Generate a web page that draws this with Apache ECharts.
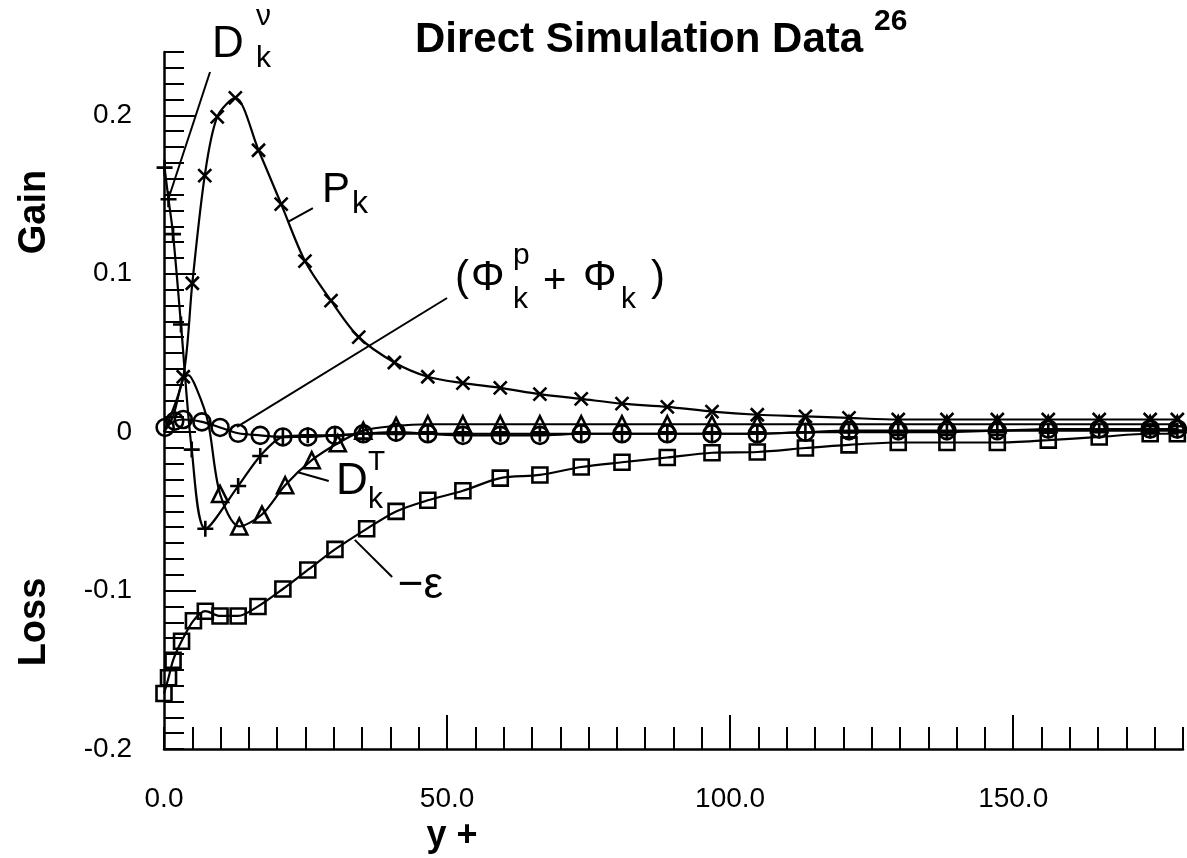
<!DOCTYPE html>
<html><head><meta charset="utf-8">
<script src="https://cdn.jsdelivr.net/npm/echarts@6/dist/echarts.min.js"></script>
<style>html,body{margin:0;padding:0;background:#fff}#c{width:1187px;height:858px}</style>
</head><body><div id="c"></div>
<script>
// ---------- data ----------
const pkX = [0, 3.4, 5.0, 7.2, 9.4, 12.6, 16.7, 20.7, 24.9, 29.5, 34.4, 40.7, 46.6, 52.8, 59.4, 66.4, 73.7, 80.9, 88.9, 96.8, 104.8, 113.3, 121.0, 129.7, 138.3, 147.2, 156.2, 165.2, 174.2, 179.0];
const pkY = [0, 0.035, 0.094, 0.162, 0.199, 0.211, 0.178, 0.144, 0.108, 0.083, 0.060, 0.044, 0.035, 0.031, 0.028, 0.024, 0.021, 0.018, 0.016, 0.013, 0.011, 0.010, 0.009, 0.008, 0.008, 0.008, 0.008, 0.008, 0.008, 0.008];

const dnuX = [0.1, 0.8, 1.6, 3.0, 4.9, 7.3, 13.1, 17.0, 21.0, 25.4, 30.2, 35.2, 41.0, 46.6, 52.8, 59.4, 66.4, 73.7, 80.9, 88.9, 96.8, 104.8, 113.3, 121.0, 129.7, 138.3, 147.2, 156.2, 165.2, 174.2, 179.0];
const dnuY = [0.167, 0.147, 0.125, 0.068, -0.011, -0.061, -0.034, -0.015, -0.003, -0.002, -0.002, -0.001, -0.001, -0.001, -0.001, -0.001, -0.001, -0.001, -0.001, -0.001, -0.001, -0.001, 0, 0, 0, 0, 0.001, 0.001, 0.001, 0.001, 0.001];

const phiX = [0.2, 1.9, 3.4, 6.7, 9.9, 13.1, 17.0, 21.0, 25.4, 30.2, 35.2, 41.0, 46.6, 52.8, 59.4, 66.4, 73.7, 80.9, 88.9, 96.8, 104.8, 113.3, 121.0, 129.7, 138.3, 147.2, 156.2, 165.2, 174.2, 179.0];
const phiY = [0.003, 0.007, 0.008, 0.0065, 0.003, -0.0007, -0.002, -0.003, -0.003, -0.002, -0.001, 0, -0.001, -0.002, -0.002, -0.002, -0.001, -0.001, -0.001, -0.001, -0.001, 0, 0.001, 0.001, 0.001, 0.001, 0.002, 0.002, 0.002, 0.002];

const dktX = [0, 1.6, 3.3, 4.3, 5.8, 7.8, 9.9, 13.3, 17.3, 21.4, 26.1, 30.7, 35.2, 41.0, 46.6, 52.8, 59.4, 66.4, 73.7, 80.9, 88.9, 96.8, 104.8, 113.3, 121.0, 129.7, 138.3, 147.2, 156.2, 165.2, 174.2, 179.0];
const dktY = [0, 0.010, 0.033, 0.036, 0.027, 0.006, -0.039, -0.0595, -0.052, -0.0335, -0.0177, -0.007, 0.001, 0.004, 0.005, 0.005, 0.005, 0.005, 0.005, 0.005, 0.005, 0.005, 0.005, 0.005, 0.005, 0.005, 0.005, 0.005, 0.005, 0.005, 0.005, 0.005];
const dktFirstMarker = 6;

const epsX = [0, 0.8, 1.6, 3.1, 5.2, 7.3, 9.9, 13.1, 16.6, 21.0, 25.4, 30.2, 35.8, 41.0, 46.6, 52.8, 59.4, 66.4, 73.7, 80.9, 88.9, 96.8, 104.8, 113.3, 121.0, 129.7, 138.3, 147.2, 156.2, 165.2, 174.2, 179.0];
const epsY = [-0.165, -0.155, -0.144, -0.132, -0.119, -0.113, -0.116, -0.116, -0.110, -0.099, -0.087, -0.074, -0.061, -0.050, -0.043, -0.037, -0.029, -0.027, -0.022, -0.019, -0.016, -0.013, -0.0125, -0.010, -0.008, -0.0065, -0.0065, -0.0065, -0.005, -0.003, -0.001, -0.001];

const xTickLabels = [0, 50, 100, 150];
const yTickLabels = [-0.2, -0.1, 0, 0.1, 0.2];
const xRange = [0, 180];
const yRange = [-0.2, 0.24];

// ---------- chart ----------
const FONT = '"Liberation Sans", Arial, Helvetica, sans-serif';
const xMinor = []; for (let i = 0; i <= 36; i++) xMinor.push(i * 5);
const yMinor = []; for (let i = -20; i <= 24; i++) yMinor.push(i / 100);

const zip = (xs, ys) => xs.map((x, i) => [x, ys[i]]);
const CROSS = 'path://M0,0L10,10M10,0L0,10';
const PLUS = 'path://M5,0L5,10M0,5L10,5';

function lineSeries(name, data, symbol, size, z) {
  return {
    name, type: 'line', data, symbol, symbolSize: size, smooth: 0.3,
    clip: false, z, animation: false,
    lineStyle: { color: '#000', width: 2.2 },
    itemStyle: { color: 'rgba(0,0,0,0)', borderColor: '#000', borderWidth: 2.6 }
  };
}

const pkData = zip(pkX, pkY).map((v, i) => i === 0 ? { value: v, symbol: 'none' } : v);
const dktData = zip(dktX, dktY).map((v, i) => i < dktFirstMarker ? { value: v, symbol: 'none' } : v);

const chart = echarts.init(document.getElementById('c'), null, { renderer: 'canvas' });
const axisCommon = { type: 'value', splitLine: { show: false } };
chart.setOption({
  backgroundColor: '#fff',
  animation: false,
  grid: { left: 164, right: 4, top: 52, bottom: 109 },
  xAxis: [
    Object.assign({}, axisCommon, {
      min: xRange[0], max: xRange[1], position: 'bottom',
      axisLine: { show: true, onZero: false, lineStyle: { color: '#000', width: 2.5 } },
      axisTick: { show: true, inside: true, length: 22, customValues: xMinor, lineStyle: { color: '#000', width: 2 } },
      axisLabel: { show: false }
    }),
    Object.assign({}, axisCommon, {
      min: xRange[0], max: xRange[1], position: 'bottom',
      axisLine: { show: false, onZero: false },
      axisTick: { show: true, inside: true, length: 34, customValues: xTickLabels.filter(v => v > 0), lineStyle: { color: '#000', width: 2 } },
      axisLabel: { show: true, customValues: xTickLabels, formatter: v => v.toFixed(1), color: '#000', fontSize: 28, fontFamily: FONT, margin: 36 }
    })
  ],
  yAxis: [
    Object.assign({}, axisCommon, {
      min: yRange[0], max: yRange[1], position: 'left',
      axisLine: { show: true, onZero: false, lineStyle: { color: '#000', width: 2.5 } },
      axisTick: { show: true, inside: true, length: 20, customValues: yMinor, lineStyle: { color: '#000', width: 2 } },
      axisLabel: { show: false }
    }),
    Object.assign({}, axisCommon, {
      min: yRange[0], max: yRange[1], position: 'left', offset: 0,
      axisLine: { show: false, onZero: false },
      axisTick: { show: true, inside: true, length: 32, customValues: yTickLabels.filter(v => v > -0.2), lineStyle: { color: '#000', width: 2 } },
      axisLabel: { show: true, customValues: yTickLabels, formatter: v => (Math.abs(v) < 1e-9 ? '0' : v.toFixed(1)), color: '#000', fontSize: 28, fontFamily: FONT, margin: 32 }
    })
  ],
  series: [
    lineSeries('eps', zip(epsX, epsY), 'rect', 15, 3),
    lineSeries('dkt', dktData, 'triangle', 16, 4),
    lineSeries('phi', zip(phiX, phiY), 'circle', 17, 5),
    lineSeries('dnu', zip(dnuX, dnuY), PLUS, 16, 6),
    lineSeries('pk', pkData, CROSS, 13, 7)
  ]
});

// ---------- annotations (anchored in data coordinates) ----------
const annotations = [
  { at: [8.48, 0.2444], leader: [[8.13, 0.2274], [0.71, 0.1466]],
    parts: [['D', 0, 0, 44], ['\u03bd', 44, -28, 30], ['k', 44, 14, 30]] },
  { at: [27.9, 0.1529], leader: [[26.3, 0.1415], [21.9, 0.1327]],
    parts: [['P', 0, 0, 42], ['k', 30, 14, 32]] },
  { at: [51.4, 0.0973], leader: [[50.0, 0.0847], [12.9, 0.0033]],
    parts: [['(', 0, 0, 42], ['\u03a6', 16, 0, 42], ['p', 58, -22, 30], ['k', 58, 22, 30], ['+', 88, 4, 40], ['\u03a6', 128, 0, 42], ['k', 166, 22, 30], [')', 196, 0, 42]] },
  { at: [30.4, -0.0314], leader: [[29.1, -0.0308], [23.5, -0.0251]],
    parts: [['D', 0, 0, 44], ['T', 32, -20, 28], ['k', 32, 18, 30]] },
  { at: [41.3, -0.0971], leader: [[40.3, -0.0914], [33.7, -0.0680]],
    parts: [['\u2212\u03b5', 0, 0, 44]] }
];

function txt(text, x, y, size, weight, align) {
  return {
    type: 'text', silent: true, z: 100,
    style: { text, x, y, fill: '#000', font: (weight || 'normal') + ' ' + size + 'px ' + FONT, align: align || 'left', verticalAlign: 'middle' }
  };
}

const P = v => chart.convertToPixel({ xAxisIndex: 0, yAxisIndex: 0 }, v);
const g = [];
annotations.forEach(a => {
  const p0 = P(a.at);
  a.parts.forEach(([t, dx, dy, s]) => g.push(txt(t, p0[0] + dx, p0[1] + dy, s)));
  const l1 = P(a.leader[0]), l2 = P(a.leader[1]);
  g.push({ type: 'line', silent: true, z: 100, shape: { x1: l1[0], y1: l1[1], x2: l2[0], y2: l2[1] }, style: { stroke: '#000', lineWidth: 2 } });
});
// title and axis names
g.push(txt('Direct Simulation Data', 415, 40, 42, 'bold'));
g.push(txt('26', 874, 22, 30, 'bold'));
g.push(txt('y +', 452, 836, 36, 'bold', 'center'));
g.push({ type: 'text', silent: true, z: 100, x: 35, y: 212, rotation: Math.PI / 2,
  style: { text: 'Gain', x: 0, y: 0, fill: '#000', font: 'bold 38px ' + FONT, align: 'center', verticalAlign: 'middle' } });
g.push({ type: 'text', silent: true, z: 100, x: 35, y: 622, rotation: Math.PI / 2,
  style: { text: 'Loss', x: 0, y: 0, fill: '#000', font: 'bold 38px ' + FONT, align: 'center', verticalAlign: 'middle' } });
chart.setOption({ graphic: g });
</script>
</body></html>
